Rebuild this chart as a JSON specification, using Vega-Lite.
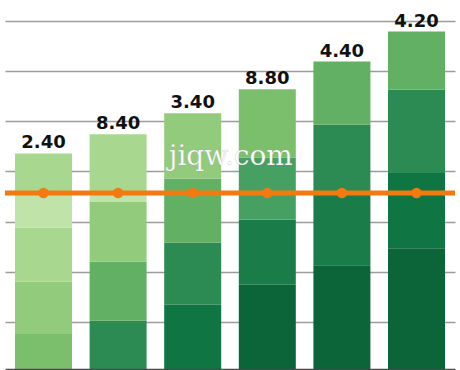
{
  "$schema": "https://vega.github.io/schema/vega-lite/v6.json",
  "width": 450,
  "height": 351,
  "autosize": "none",
  "padding": {"left": 5, "top": 21, "right": 5, "bottom": -2},
  "background": "#ffffff",
  "config": {"view": {"stroke": null}},
  "datasets": {
    "segments": [
      {"cat": "A", "seg": 1, "shade": "s4", "value": 0.76},
      {"cat": "A", "seg": 2, "shade": "s3", "value": 1.04},
      {"cat": "A", "seg": 3, "shade": "s2", "value": 1.08},
      {"cat": "A", "seg": 4, "shade": "s1", "value": 0.70},
      {"cat": "A", "seg": 5, "shade": "s2", "value": 0.78},
      {"cat": "B", "seg": 1, "shade": "s7", "value": 1.02},
      {"cat": "B", "seg": 2, "shade": "s5", "value": 1.18},
      {"cat": "B", "seg": 3, "shade": "s3", "value": 1.20},
      {"cat": "B", "seg": 4, "shade": "s1", "value": 0.18},
      {"cat": "B", "seg": 5, "shade": "s2", "value": 1.16},
      {"cat": "C", "seg": 1, "shade": "s9", "value": 1.34},
      {"cat": "C", "seg": 2, "shade": "s7", "value": 1.24},
      {"cat": "C", "seg": 3, "shade": "s5", "value": 1.28},
      {"cat": "C", "seg": 4, "shade": "s3", "value": 1.30},
      {"cat": "D", "seg": 1, "shade": "s10", "value": 1.74},
      {"cat": "D", "seg": 2, "shade": "s8", "value": 1.30},
      {"cat": "D", "seg": 3, "shade": "s6", "value": 1.24},
      {"cat": "D", "seg": 4, "shade": "s4", "value": 1.36},
      {"cat": "E", "seg": 1, "shade": "s10", "value": 2.13},
      {"cat": "E", "seg": 2, "shade": "s8", "value": 1.48},
      {"cat": "E", "seg": 3, "shade": "s7", "value": 1.32},
      {"cat": "E", "seg": 4, "shade": "s5", "value": 1.26},
      {"cat": "F", "seg": 1, "shade": "s10", "value": 2.47},
      {"cat": "F", "seg": 2, "shade": "s9", "value": 1.50},
      {"cat": "F", "seg": 3, "shade": "s7", "value": 1.66},
      {"cat": "F", "seg": 4, "shade": "s5", "value": 1.16}
    ],
    "labels": [
      {"cat": "A", "label": "2.40"},
      {"cat": "B", "label": "8.40"},
      {"cat": "C", "label": "3.40"},
      {"cat": "D", "label": "8.80"},
      {"cat": "E", "label": "4.40"},
      {"cat": "F", "label": "4.20"}
    ],
    "target": [
      {"cat": "A", "target": 3.57},
      {"cat": "B", "target": 3.57},
      {"cat": "C", "target": 3.57},
      {"cat": "D", "target": 3.57},
      {"cat": "E", "target": 3.57},
      {"cat": "F", "target": 3.57}
    ],
    "mark": [
      {"text": "jiqw.com"}
    ]
  },
  "encoding": {
    "x": {
      "field": "cat",
      "type": "nominal",
      "scale": {"paddingInner": 0.236, "paddingOuter": 0.134},
      "axis": {"title": null, "labels": false, "ticks": false, "domain": true, "domainColor": "#4a4a4a", "domainWidth": 1.5, "offset": -3, "zindex": 1, "grid": false}
    }
  },
  "layer": [
    {
      "data": {"name": "segments"},
      "mark": {"type": "bar"},
      "encoding": {
        "y": {
          "field": "value",
          "type": "quantitative",
          "stack": "zero",
          "scale": {"domain": [0, 7], "nice": false},
          "axis": {"title": null, "labels": false, "ticks": false, "domain": false, "grid": true, "values": [1, 2, 3, 4, 5, 6, 7], "gridColor": "#9c9c9c", "gridWidth": 1.5}
        },
        "color": {
          "field": "shade",
          "type": "nominal",
          "scale": {
            "domain": ["s1", "s2", "s3", "s4", "s5", "s6", "s7", "s8", "s9", "s10"],
            "range": ["#bfe3a9", "#a8d890", "#93cb7c", "#7bbf6d", "#62b063", "#46a061", "#2b8b52", "#197c49", "#0e7543", "#0b6539"]
          },
          "legend": null
        },
        "order": {"field": "seg", "type": "quantitative"}
      }
    },
    {
      "data": {"name": "segments"},
      "transform": [
        {"aggregate": [{"op": "sum", "field": "value", "as": "total"}], "groupby": ["cat"]},
        {"lookup": "cat", "from": {"data": {"name": "labels"}, "key": "cat", "fields": ["label"]}}
      ],
      "mark": {"type": "text", "baseline": "alphabetic", "dy": -5, "fontSize": 18, "fontWeight": "bold", "font": "DejaVu Sans", "color": "#111111"},
      "encoding": {
        "y": {"field": "total", "type": "quantitative"},
        "text": {"field": "label"}
      }
    },
    {
      "data": {"name": "target"},
      "mark": {"type": "rule", "color": "#f27a10", "strokeWidth": 5},
      "encoding": {
        "x": null,
        "y": {"aggregate": "mean", "field": "target", "type": "quantitative"}
      }
    },
    {
      "data": {"name": "target"},
      "mark": {"type": "point", "filled": true, "opacity": 1, "color": "#f27a10", "size": 110},
      "encoding": {
        "y": {"field": "target", "type": "quantitative"}
      }
    },
    {
      "data": {"name": "mark"},
      "mark": {"type": "text", "font": "DejaVu Serif", "fontSize": 28, "color": "#ffffff", "stroke": "#8a8a8a", "strokeWidth": 0.6, "strokeOpacity": 0.35, "baseline": "alphabetic", "align": "center", "dx": -8},
      "encoding": {
        "x": {"datum": "D", "bandPosition": 0},
        "y": {"datum": 4.13, "type": "quantitative"},
        "text": {"field": "text"}
      }
    }
  ]
}
